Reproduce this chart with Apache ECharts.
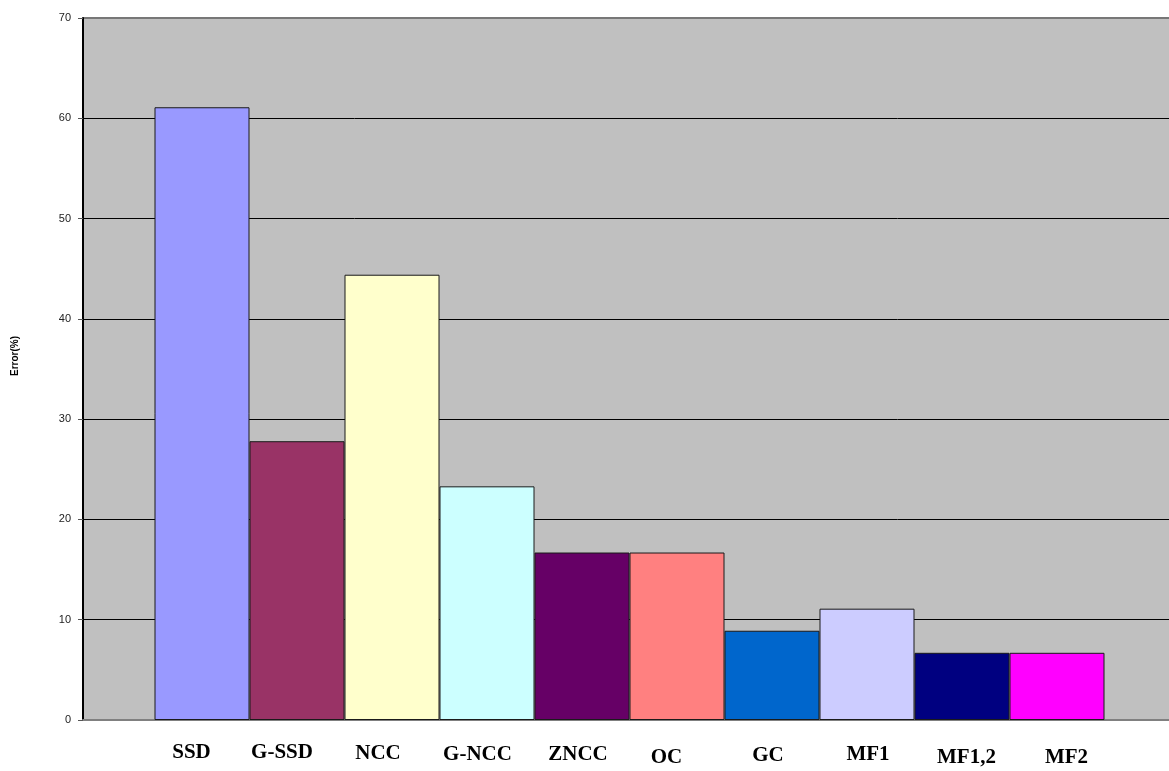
<!DOCTYPE html>
<html>
<head>
<meta charset="utf-8">
<script src="https://cdn.jsdelivr.net/npm/echarts@6/dist/echarts.min.js"></script>
<style>html,body{margin:0;padding:0;background:#fff}#c{width:1169px;height:771px}</style>
</head>
<body>
<div id="c"></div>
<script>
// ---- data ----
const methods = ['SSD', 'G-SSD', 'NCC', 'G-NCC', 'ZNCC', 'OC', 'GC', 'MF1', 'MF1,2', 'MF2'];
const errors = [61.1, 27.8, 44.4, 23.3, 16.7, 16.7, 8.9, 11.1, 6.7, 6.7];
const yTicks = [0, 10, 20, 30, 40, 50, 60, 70];
const yTitle = 'Error(%)';

// ---- style ----
const colors = ['#9999FF', '#993366', '#FFFFCC', '#CCFFFF', '#660066', '#FF8080', '#0066CC', '#CCCCFF', '#000080', '#FF00FF'];
// manual placement of the text boxes under the bars (as in the original figure)
const labelShift = [[-10.5, 32], [-15, 32], [-14, 33], [-9.5, 34], [-4, 34], [-10.5, 37.5], [-4, 35], [1, 34], [4.5, 37], [9.5, 37]];

const chart = echarts.init(document.getElementById('c'), null, {renderer: 'canvas'});
const series = [{
  // empty layout spacer: the plot area of the original continues past the right edge
  name: 'spacer', type: 'bar', data: [null], barWidth: 7, barGap: '0%', silent: true,
  itemStyle: {color: 'transparent'}, animation: false
}].concat(methods.map((m, i) => ({
  name: m,
  type: 'bar',
  data: [errors[i]],
  barWidth: 95,
  barGap: '0%',
  itemStyle: {color: colors[i], borderColor: '#1a1a1a', borderWidth: 1},
  label: {
    show: true,
    position: 'insideBottom',
    distance: 0,
    offset: [labelShift[i][0], labelShift[i][1] + 11],
    formatter: m,
    color: '#000',
    fontFamily: 'Liberation Serif',
    fontWeight: 'bold',
    fontSize: 21,
    lineHeight: 21
  },
  animation: false
})));

chart.setOption({
  animation: false,
  backgroundColor: '#fff',
  grid: {left: 83, top: 18, right: 0, bottom: 51, backgroundColor: '#C0C0C0', show: true, borderWidth: 0},
  xAxis: {
    type: 'category',
    data: ['all'],
    axisLine: {show: true, lineStyle: {color: '#808080', width: 2}},
    axisTick: {show: false},
    axisLabel: {show: false},
    splitLine: {show: false}
  },
  yAxis: {
    type: 'value',
    min: yTicks[0],
    max: yTicks[yTicks.length - 1],
    interval: 10,
    axisLine: {show: true, lineStyle: {color: '#000', width: 2}},
    axisTick: {show: true, length: 5, lineStyle: {color: '#555'}},
    axisLabel: {color: '#222', fontFamily: 'Liberation Sans', fontSize: 11, margin: 12},
    splitLine: {show: true, lineStyle: {color: ['#808080', '#000', '#000', '#000', '#000', '#000', '#000', '#777'], width: 1}}
  },
  graphic: [{
    type: 'rect',
    shape: {x: 83, y: 17, width: 1086, height: 2},
    style: {fill: '#777'},
    silent: true
  }, {
    type: 'text',
    x: 15, y: 356,
    rotation: Math.PI / 2,
    style: {text: yTitle, fontFamily: 'Liberation Sans', fontWeight: 'bold', fontSize: 10, fill: '#000', align: 'center', verticalAlign: 'middle'}
  }],
  series: series
});
</script>
</body>
</html>
